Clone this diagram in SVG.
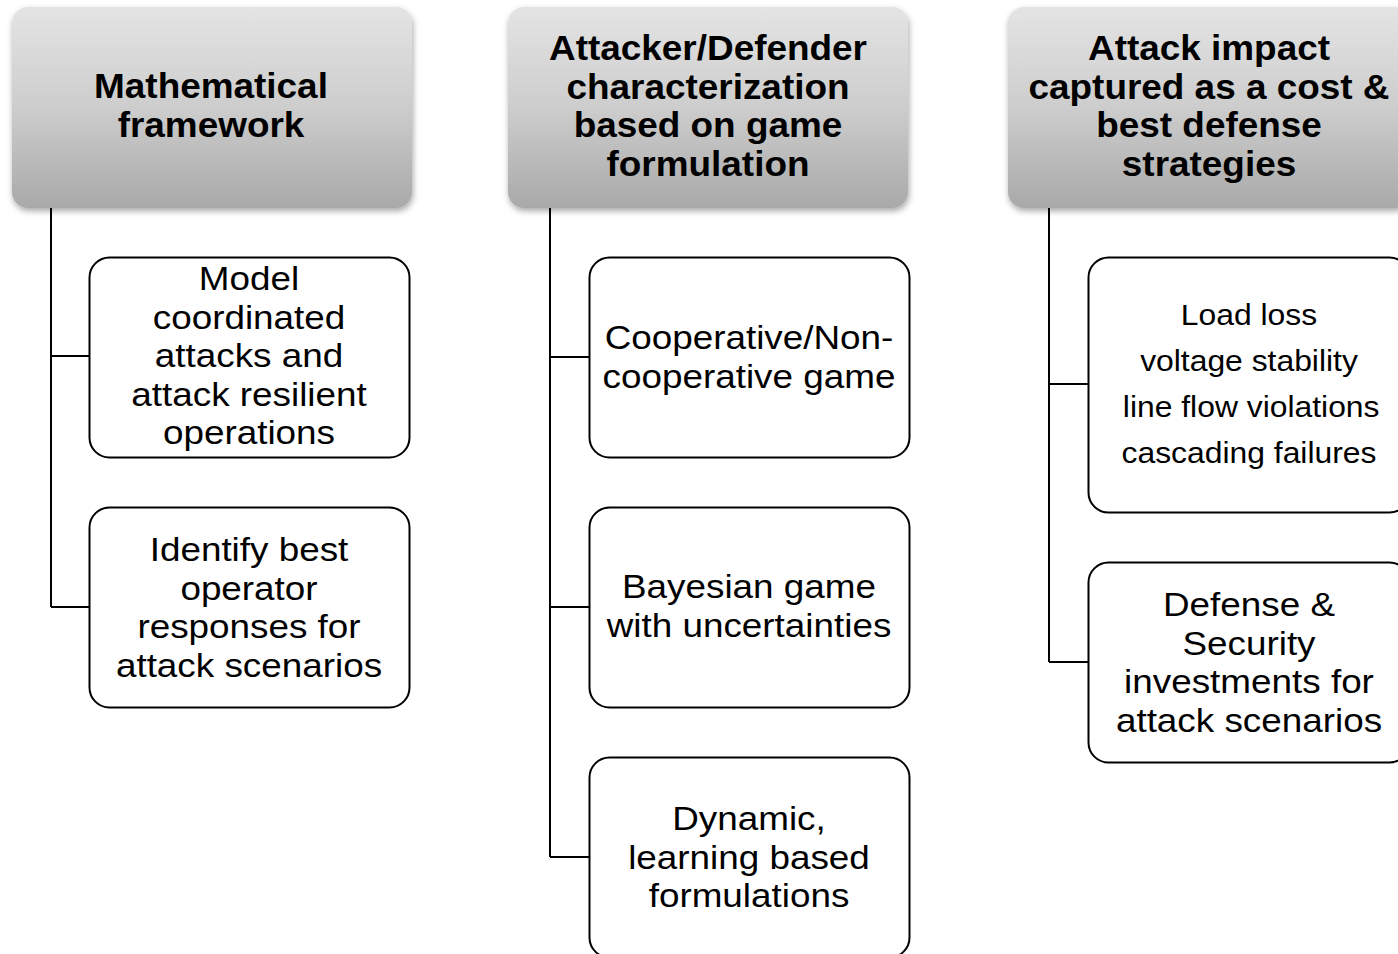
<svg xmlns="http://www.w3.org/2000/svg" width="1398" height="954" viewBox="0 0 1398 954">
  <style>
    .hdr { fill: url(#hdrGrad); filter: url(#shadow); }
    .box { fill: #ffffff; stroke: #000000; stroke-width: 2; }
    .ht { font-family: "Liberation Sans", Arial, sans-serif; font-weight: bold; font-size: 35.5px; fill: #000; text-anchor: middle; }
    .bt { font-family: "Liberation Sans", Arial, sans-serif; font-size: 33.5px; fill: #000; text-anchor: middle; }
    .st { font-family: "Liberation Sans", Arial, sans-serif; font-size: 29.5px; fill: #000; text-anchor: middle; }
    .wire { fill: none; stroke: #000000; stroke-width: 2; }
  </style>
  <defs>
    <linearGradient id="hdrGrad" x1="0" y1="0" x2="0" y2="1">
      <stop offset="0" stop-color="#e4e4e4"/>
      <stop offset="0.5" stop-color="#cdcdcd"/>
      <stop offset="1" stop-color="#a9a9a9"/>
    </linearGradient>
    <filter id="shadow" x="-10%" y="-10%" width="120%" height="130%">
      <feDropShadow dx="1" dy="3" stdDeviation="3" flood-color="#000" flood-opacity="0.35"/>
    </filter>
  </defs>
  <rect width="1398" height="954" fill="#ffffff"/>

  <!-- tree connectors -->
  <g id="connectors">
    <path class="wire" d="M51 208 V607 M51 356 H89 M51 607 H89"/>
    <path class="wire" d="M550 208 V857 M550 357 H589 M550 607 H589 M550 857 H589"/>
    <path class="wire" d="M1049 208 V662 M1049 384 H1088 M1049 662 H1088"/>
  </g>

  <!-- column 1 -->
  <g id="hdr-math">
    <rect class="hdr" x="12" y="7" width="400" height="201" rx="16"/>
    <text class="ht" transform="matrix(1.04 0 0 1 211 0)"><tspan x="0" y="98">Mathematical</tspan><tspan x="0" y="137">framework</tspan></text>
  </g>
  <g id="node-model">
    <rect class="box" x="89.5" y="257.5" width="320" height="200" rx="20"/>
    <text class="bt" transform="matrix(1.1 0 0 1 249 0)"><tspan x="0" y="290">Model</tspan><tspan x="0" y="329">coordinated</tspan><tspan x="0" y="367">attacks and</tspan><tspan x="0" y="406">attack resilient</tspan><tspan x="0" y="444">operations</tspan></text>
  </g>
  <g id="node-identify">
    <rect class="box" x="89.5" y="507.5" width="320" height="200" rx="20"/>
    <text class="bt" transform="matrix(1.1 0 0 1 249 0)"><tspan x="0" y="561">Identify best</tspan><tspan x="0" y="600">operator</tspan><tspan x="0" y="638">responses for</tspan><tspan x="0" y="677">attack scenarios</tspan></text>
  </g>

  <!-- column 2 -->
  <g id="hdr-game">
    <rect class="hdr" x="508" y="7" width="400" height="201" rx="16"/>
    <text class="ht" transform="matrix(1.04 0 0 1 708 0)"><tspan x="0" y="60">Attacker/Defender</tspan><tspan x="0" y="99">characterization</tspan><tspan x="0" y="137">based on game</tspan><tspan x="0" y="176">formulation</tspan></text>
  </g>
  <g id="node-coop">
    <rect class="box" x="589.5" y="257.5" width="320" height="200" rx="20"/>
    <text class="bt" transform="matrix(1.1 0 0 1 749 0)"><tspan x="0" y="349">Cooperative/Non-</tspan><tspan x="0" y="388">cooperative game</tspan></text>
  </g>
  <g id="node-bayes">
    <rect class="box" x="589.5" y="507.5" width="320" height="200" rx="20"/>
    <text class="bt" transform="matrix(1.1 0 0 1 749 0)"><tspan x="0" y="598">Bayesian game</tspan><tspan x="0" y="637">with uncertainties</tspan></text>
  </g>
  <g id="node-dynamic">
    <rect class="box" x="589.5" y="757.5" width="320" height="200" rx="20"/>
    <text class="bt" transform="matrix(1.1 0 0 1 749 0)"><tspan x="0" y="830">Dynamic,</tspan><tspan x="0" y="869">learning based</tspan><tspan x="0" y="907">formulations</tspan></text>
  </g>

  <!-- column 3 -->
  <g id="hdr-impact">
    <rect class="hdr" x="1008" y="7" width="402" height="201" rx="16"/>
    <text class="ht" transform="matrix(1.04 0 0 1 1209 0)"><tspan x="0" y="60">Attack impact</tspan><tspan x="0" y="99">captured as a cost &amp;</tspan><tspan x="0" y="137">best defense</tspan><tspan x="0" y="176">strategies</tspan></text>
  </g>
  <g id="node-loss">
    <rect class="box" x="1088.5" y="257.5" width="321" height="255" rx="20"/>
    <text class="st" transform="matrix(1.08 0 0 1 1249 0)"><tspan x="0" y="325">Load loss</tspan><tspan x="0" y="371">voltage stability</tspan><tspan x="2" y="417">line flow violations</tspan><tspan x="0" y="463">cascading failures</tspan></text>
  </g>
  <g id="node-defense">
    <rect class="box" x="1088.5" y="562.5" width="321" height="200" rx="20"/>
    <text class="bt" transform="matrix(1.1 0 0 1 1249 0)"><tspan x="0" y="616">Defense &amp;</tspan><tspan x="0" y="655">Security</tspan><tspan x="0" y="693">investments for</tspan><tspan x="0" y="732">attack scenarios</tspan></text>
  </g>
</svg>
